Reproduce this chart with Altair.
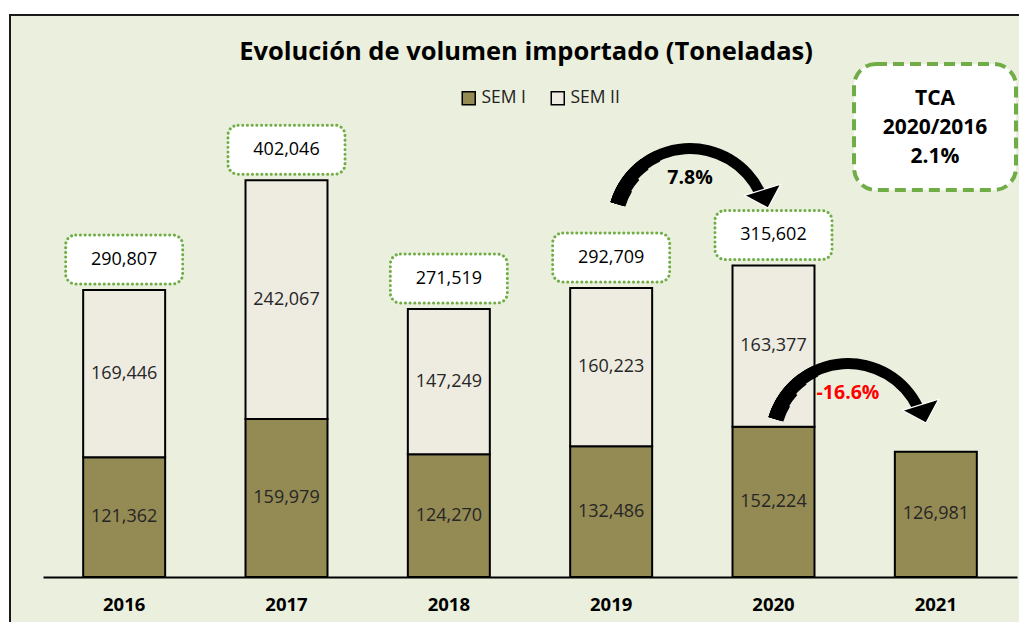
import altair as alt
import pandas as pd

# ---- data ----
years = ["2016", "2017", "2018", "2019", "2020", "2021"]
sem1 = [121362, 159979, 124270, 132486, 152224, 126981]
sem2 = [169446, 242067, 147249, 160223, 163377, None]
totals = [290807, 402046, 271519, 292709, 315602, None]
series = ["SEM I", "SEM II"]
title_text = "Evolución de volumen importado (Toneladas)"
tca_lines = ["TCA", "2020/2016", "2.1%"]
arrow_labels = ["7.8%", "-16.6%"]

FONT = "Open Sans"
C1, C2 = "#948A54", "#EEECE1"
BG = "#EBF0DE"
GREEN = "#70AD47"

rows = []
for i, yr in enumerate(years):
    rows.append({"year": yr, "sem": series[0], "value": sem1[i], "ord": 0,
                 "mid": sem1[i] / 2})
    if sem2[i] is not None:
        rows.append({"year": yr, "sem": series[1], "value": sem2[i], "ord": 1,
                     "mid": sem1[i] + sem2[i] / 2})
df = pd.DataFrame(rows)
df["lbl"] = df["value"].map(lambda v: f"{v:,.0f}")

tot = pd.DataFrame({"year": years[:5], "total": totals[:5]})
tot["lbl"] = tot["total"].map(lambda v: f"{v:,.0f}")

one = pd.DataFrame({"k": [0]})

xs = alt.X("year:N", sort=years,
           scale=alt.Scale(paddingInner=0.495, paddingOuter=0.2475),
           axis=alt.Axis(title=None, labelAngle=0, ticks=False, domainColor="black",
                         domainWidth=2, labelFontSize=18.5, labelFontWeight="bold",
                         labelFont=FONT, labelColor="black", labelPadding=18,
                         zindex=2))
yscale = alt.Scale(domain=[0, 569400], nice=False, zero=True)

bg = alt.Chart(one).mark_rect(fill=BG, stroke="#1a1a1a", strokeWidth=2).encode(
    x=alt.value(-33), x2=alt.value(1100), y=alt.value(0), y2=alt.value(800))

bars = alt.Chart(df).mark_bar(stroke="black", strokeWidth=2).encode(
    x=xs,
    y=alt.Y("value:Q", stack="zero", scale=yscale, axis=None),
    color=alt.Color("sem:N", scale=alt.Scale(domain=series, range=[C1, C2]),
                    legend=alt.Legend(title=None, orient="none", legendX=417, legendY=74,
                                      direction="horizontal", symbolType="square",
                                      symbolSize=169, symbolStrokeColor="black",
                                      symbolStrokeWidth=1.5, labelFontSize=17.5,
                                      labelFont=FONT, labelColor="#222",
                                      columnPadding=22, labelOffset=4)),
    order=alt.Order("ord:Q"),
)

seg_text = alt.Chart(df).mark_text(font=FONT, fontSize=18, color="#262626").encode(
    x=alt.X("year:N", sort=years), y=alt.Y("mid:Q", scale=yscale), text="lbl:N")

boxes = alt.Chart(tot).mark_bar(width=117, fill="white", stroke=GREEN, strokeWidth=3,
                                strokeDash=[0.1, 4.6], strokeCap="round",
                                cornerRadius=10, yOffset=-6, y2Offset=-55).encode(
    x=alt.X("year:N", sort=years), y=alt.Y("total:Q", scale=yscale, stack=None),
    y2="total:Q")

tot_text = alt.Chart(tot).mark_text(font=FONT, fontSize=18, color="black",
                                    yOffset=-30).encode(
    x=alt.X("year:N", sort=years), y=alt.Y("total:Q", scale=yscale), text="lbl:N")

title = alt.Chart(pd.DataFrame({"t": [title_text]})).mark_text(
    font=FONT, fontSize=25.5, fontWeight="bold", color="black").encode(
    x=alt.value(483), y=alt.value(37), text="t:N")

tca_box = alt.Chart(one).mark_rect(fill="white", stroke=GREEN, strokeWidth=4,
                                   strokeDash=[11, 6], cornerRadius=22).encode(
    x=alt.value(811), x2=alt.value(973), y=alt.value(49), y2=alt.value(175))

tca_layers = []
for i, line in enumerate(tca_lines):
    tca_layers.append(
        alt.Chart(pd.DataFrame({"t": [line]})).mark_text(
            font=FONT, fontSize=21, fontWeight="bold", color="black").encode(
            x=alt.value(892), y=alt.value(84 + 29 * i), text="t:N"))

HEAD = "M -1 -0.45 L 1 -0.45 L 0 0.55 Z"


def arrow(cx, cy, label, color):
    segs = [(5.005, 7.42, 72), (5.005, 5.85, 71), (5.005, 5.65, 70),
            (5.005, 5.45, 68.5), (5.005, 5.25, 67.5)]
    out = []
    for t1, t2, r2 in segs:
        out.append(alt.Chart(one).mark_arc(fill="black").encode(
            x=alt.value(cx), y=alt.value(cy),
            theta=alt.value(t1), theta2=alt.value(t2),
            radius=alt.value(83), radius2=alt.value(r2)))
    out.append(alt.Chart(one).mark_point(shape=HEAD, size=1444, filled=True,
                                         fill="black", stroke="white", strokeWidth=1.2,
                                         opacity=1, angle=343).encode(
        x=alt.value(cx + 75), y=alt.value(cy - 28)))
    out.append(alt.Chart(pd.DataFrame({"t": [label]})).mark_text(
        font=FONT, fontSize=19.5, fontWeight="bold", color=color).encode(
        x=alt.value(cx), y=alt.value(cy - 48), text="t:N"))
    return out


layers = [bg, bars, seg_text, boxes, tot_text, title, tca_box] + tca_layers
layers += arrow(647, 211, arrow_labels[0], "black")
layers += arrow(805, 426, arrow_labels[1], "#FF0000")

chart = alt.layer(*layers).properties(
    width=974, height=562,
    autosize=alt.AutoSizeParams(type="none"),
    padding={"left": 35, "top": 7, "right": 2, "bottom": 45},
    background="white",
).configure_view(stroke=None)

chart.save("out.html", embed_options={"renderer": "svg", "actions": False})
